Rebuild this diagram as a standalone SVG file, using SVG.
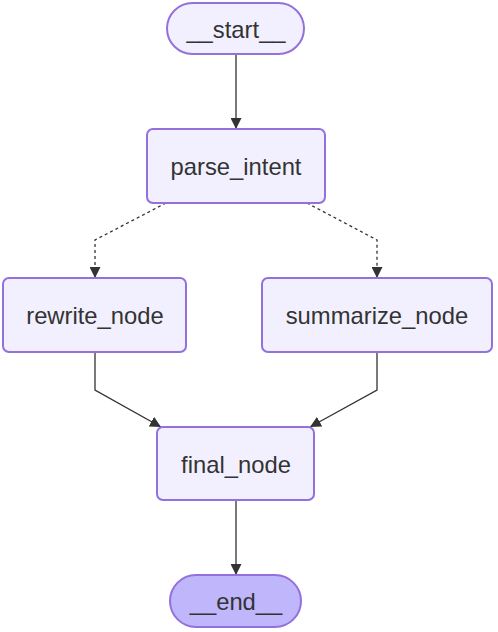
<svg xmlns="http://www.w3.org/2000/svg" width="498" height="632" viewBox="0 0 498 632">
<style>
.node rect{fill:#f2f0ff;stroke:#9370db;stroke-width:2}
.node.end rect{fill:#bfb6fc}
.node text{font-family:"Liberation Sans",Arial,sans-serif;font-size:23.8px;fill:#333;text-anchor:middle;dominant-baseline:central}
.edge{fill:none;stroke:#333;stroke-width:1.3}
.dot{stroke-dasharray:3 3}
</style>
<defs>
<marker id="arr" viewBox="0 0 10 10" refX="10" refY="5" markerWidth="11" markerHeight="11" markerUnits="userSpaceOnUse" orient="auto">
<path d="M0,0 L10,5 L0,10 z" fill="#333"/>
</marker>
</defs>
<rect width="498" height="632" fill="#fff"/>
<g id="connectors">
<path class="edge" d="M236,54 L236,129" marker-end="url(#arr)"/>
<path class="edge dot" d="M166,203 L95,240 L95,278" marker-end="url(#arr)"/>
<path class="edge dot" d="M307,203 L377,240 L377,278" marker-end="url(#arr)"/>
<path class="edge" d="M95,352 L95,390 L161,427" marker-end="url(#arr)"/>
<path class="edge" d="M377,352 L377,390 L310,427" marker-end="url(#arr)"/>
<path class="edge" d="M236,500 L236,575" marker-end="url(#arr)"/>
</g>
<g id="start" class="node"><rect x="167" y="3" width="137" height="51" rx="25.5"/><text x="236" y="29">__start__</text></g>
<g id="parse_intent" class="node"><rect x="147" y="129" width="178" height="74" rx="6"/><text x="236" y="166">parse_intent</text></g>
<g id="rewrite_node" class="node"><rect x="3" y="278" width="183" height="74" rx="6"/><text x="95" y="315">rewrite_node</text></g>
<g id="summarize_node" class="node"><rect x="262" y="278" width="230" height="74" rx="6"/><text x="377" y="315">summarize_node</text></g>
<g id="final_node" class="node"><rect x="157" y="427" width="157" height="73" rx="6"/><text x="236" y="464">final_node</text></g>
<g id="end" class="node end"><rect x="170" y="575" width="131" height="52" rx="26"/><text x="236" y="601">__end__</text></g>
</svg>
